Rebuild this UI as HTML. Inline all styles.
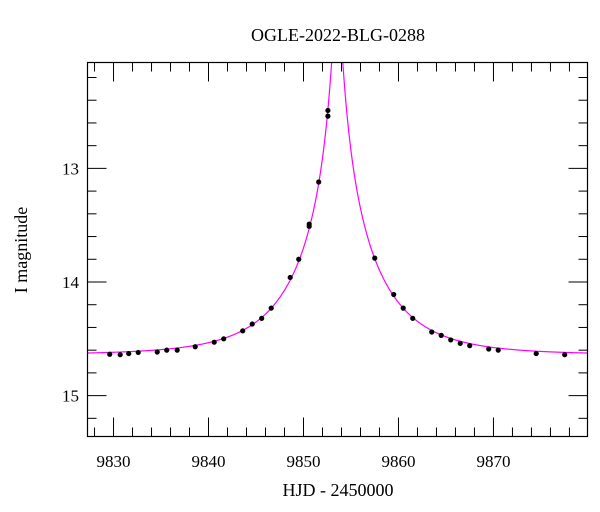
<!DOCTYPE html>
<html><head><meta charset="utf-8"><style>
html,body{margin:0;padding:0;background:#fff;}
svg{display:block;font-family:"Liberation Serif","DejaVu Serif",serif;}
</style></head><body>
<svg id="chart" width="600" height="512" viewBox="0 0 600 512">
<text x="338" y="41" font-size="18" text-anchor="middle">OGLE-2022-BLG-0288</text>
<text x="338" y="496" font-size="18" text-anchor="middle">HJD - 2450000</text>
<text x="0" y="0" font-size="18" text-anchor="middle" transform="translate(27,250) rotate(-90)">I magnitude</text>
<g id="ticks"></g>
<g id="labels"></g>
<path id="model" fill="none" stroke="#ff00ff" stroke-width="1.2"></path>
<g id="pts"></g>
<rect x="87.5" y="62.5" width="500" height="374" fill="none" stroke="#000" stroke-width="1.2"></rect>
</svg>
<script>
const times = [9829.6,9830.7,9831.6,9832.6,9834.6,9835.6,9836.7,9838.6,9840.6,9841.6,9843.6,9844.6,9845.6,9846.6,9848.6,9849.5,9850.6,9850.6,9851.6,9852.57,9852.57,9857.5,9859.5,9860.5,9861.5,9863.5,9864.5,9865.5,9866.5,9867.5,9869.5,9870.5,9874.5,9877.5];
const mags = [14.636,14.64,14.63,14.62,14.616,14.60,14.60,14.57,14.53,14.50,14.43,14.37,14.32,14.23,13.96,13.80,13.49,13.51,13.12,12.49,12.54,13.79,14.11,14.23,14.32,14.44,14.47,14.51,14.54,14.56,14.59,14.60,14.63,14.64];
const xTickLabels = [9830,9840,9850,9860,9870];
const yTickLabels = [13,14,15];
const modelParams = {t0:9853.55, tE:8.5, u0:0.05, fs:0.9, base:14.64};

const L=87.5,R=587.5,T=62.5,B=436.5;
const xMin=9827.26,xMax=9879.9,yMin=12.068,yMax=15.36;
const X=t=>L+(t-xMin)/(xMax-xMin)*(R-L);
const Y=m=>T+(m-yMin)/(yMax-yMin)*(B-T);
const NS="http://www.w3.org/2000/svg";
function mk(tag,attrs,parent){const e=document.createElementNS(NS,tag);for(const k in attrs)e.setAttribute(k,attrs[k]);parent.appendChild(e);return e;}

const tg=document.getElementById('ticks');
for(let t=9828;t<=9879;t+=2){
  const major=(t%10===0);const len=major?19:9;const x=X(t);
  const a=mk('line',{x1:x,x2:x,y1:B,y2:B-len,stroke:'#000','stroke-width':1},tg);
  
  
  const b=mk('line',{x1:x,x2:x,y1:T,y2:T+len,stroke:'#000','stroke-width':1},tg);
  
  
}
for(let i=0;i<=16;i++){
  const m=12.2+i*0.2;if(m>yMax)break;
  const major=Math.abs(m-Math.round(m))<1e-6;const len=major?19:9;const y=Y(m);
  const a=mk('line',{x1:L,x2:L+len,y1:y,y2:y,stroke:'#000','stroke-width':1},tg);
  
  
  const b=mk('line',{x1:R,x2:R-len,y1:y,y2:y,stroke:'#000','stroke-width':1},tg);
  
  
}
const lg=document.getElementById('labels');
xTickLabels.forEach(v=>{
  const e=mk('text',{x:X(v),y:467,'font-size':17,'text-anchor':'middle'},lg);e.textContent=v;
  
  
});
yTickLabels.forEach(v=>{
  const e=mk('text',{x:79,y:Y(v)+6,'font-size':17,'text-anchor':'end'},lg);e.textContent=v;
  
  
});
function modelMag(t){const p=modelParams;const tau=(t-p.t0)/p.tE;const u=Math.sqrt(p.u0*p.u0+tau*tau);
  const A=(u*u+2)/(u*Math.sqrt(u*u+4));return p.base-2.5*Math.log10(p.fs*A+1-p.fs);}
let d='';
for(let t=xMin;t<=xMax;t+=0.02){let y=Y(modelMag(t));d+=(d?'L':'M')+X(t).toFixed(2)+' '+y.toFixed(2);}
const model=document.getElementById('model');model.setAttribute('d',d);
const clip=mk('clipPath',{id:'cp'},document.getElementById('chart'));
mk('rect',{x:L,y:T,width:R-L,height:B-T},clip);
model.setAttribute('clip-path','url(#cp)');
const pg=document.getElementById('pts');
times.forEach((t,i)=>{
  const c=mk('circle',{cx:X(t),cy:Y(mags[i]),r:2.6,fill:'#000'},pg);
  
  
});
</script>
</body></html>
